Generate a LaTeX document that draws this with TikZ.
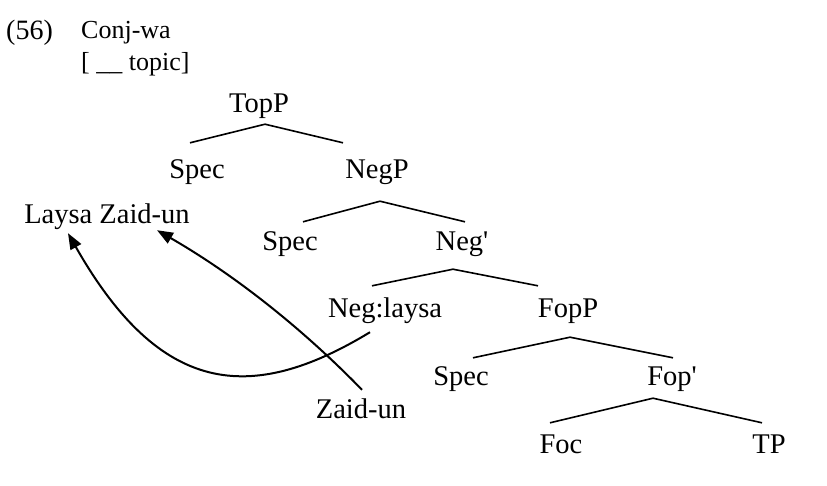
\documentclass[tikz,border=0pt]{standalone}
\usepackage{fontspec}
\setmainfont{Liberation Serif}
\usepackage{tikz}
\usetikzlibrary{arrows.meta}
\tikzset{
  lbl/.style={font=\fontsize{28.5}{30}\selectfont,inner sep=0pt,
    text height=20pt,text depth=6pt,anchor=base},
  hdr/.style={font=\fontsize{26}{28}\selectfont,inner sep=0pt,anchor=base west},
  br/.style={line width=1.6pt,black},
  mv/.style={-{Triangle[length=16pt,width=12pt]},line width=2pt,black}
}
\begin{document}
\begin{tikzpicture}[x=1pt,y=-1pt]
\useasboundingbox (0,0) rectangle (827,485);
% example number and feature
\node[hdr,font=\fontsize{28}{30}\selectfont] (num) at (6,39) {(56)};
\node[hdr] (conj) at (81,38) {Conj-wa};
\node[hdr] (feat) at (81,70) {[ \_\_ topic]};
% tree
\node[lbl] (topp) at (259,112) {TopP};
\node[lbl] (spec1) at (197,178) {Spec};
\node[lbl] (negp) at (377,178) {NegP};
\node[lbl] (spec2) at (290,250) {Spec};
\node[lbl] (negbar) at (462,250) {Neg\textquotesingle};
\node[lbl] (neglaysa) at (385,317) {Neg:laysa};
\node[lbl] (fopp) at (568,317) {FopP};
\node[lbl] (spec3) at (461,385) {Spec};
\node[lbl] (fopbar) at (672,385) {Fop\textquotesingle};
\node[lbl] (foc) at (561,453) {Foc};
\node[lbl] (tp) at (769,453) {TP};
\node[lbl] (zaid) at (361,418) {Zaid-un};
\node[lbl] (laysa) at (107,223) {Laysa Zaid-un};
% branches
\draw[br] ([shift={(-7,-15)}]spec1.north) -- ([shift={(6,6)}]topp.south) -- ([shift={(-34,-15)}]negp.north);
\draw[br] ([shift={(13,-8)}]spec2.north) -- ([shift={(3,17)}]negp.south) -- ([shift={(3,-8)}]negbar.north);
\draw[br] ([shift={(-13,-11)}]neglaysa.north) -- ([shift={(-9,13)}]negbar.south) -- ([shift={(-30,-11)}]fopp.north);
\draw[br] ([shift={(12,-7)}]spec3.north) -- ([shift={(2,14)}]fopp.south) -- ([shift={(1,-7)}]fopbar.north);
\draw[br] ([shift={(-11,-10)}]foc.north) -- ([shift={(-19,7)}]fopbar.south) -- ([shift={(-7,-10)}]tp.north);
% movement
\draw[mv] ([shift={(-15,9)}]neglaysa.south) .. controls (250,405) and (160,395) .. ([shift={(-39,4)}]laysa.south);
\draw[mv] ([shift={(1,-8)}]zaid.north) .. controls (301,327) and (233,274) .. ([shift={(50,1)}]laysa.south);
\end{tikzpicture}
\end{document}
